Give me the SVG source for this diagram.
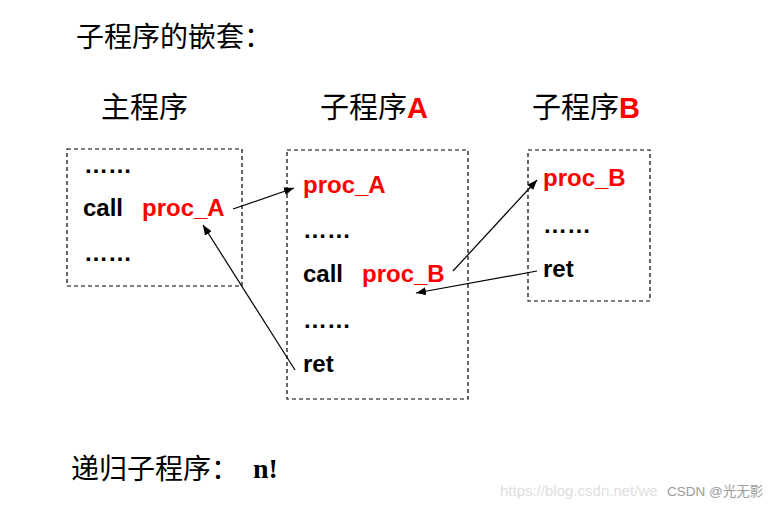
<svg xmlns="http://www.w3.org/2000/svg" width="780" height="507" viewBox="0 0 780 507">
<style>
.cjk{font-family:"Noto Sans CJK SC","Noto Sans",sans-serif;fill:#000}
.code{font-family:"Liberation Sans",Arial,sans-serif;font-weight:bold;font-size:24px;fill:#000}
.red{fill:#ff0000}
.box{fill:none;stroke:#000;stroke-width:1.2;stroke-dasharray:4,3}
.conn{stroke:#000;stroke-width:1.2;fill:none;marker-end:url(#arr)}
</style>
<defs>
<marker id="arr" markerUnits="userSpaceOnUse" markerWidth="10" markerHeight="8" refX="10" refY="4" orient="auto">
<path d="M0,0 L10,4 L0,8 z" fill="#000"/>
</marker>
</defs>
<rect width="780" height="507" fill="#fff"/>
<text class="cjk" x="76" y="47" font-size="28">子程序的嵌套：</text>
<text class="cjk" x="101" y="118" font-size="29">主程序</text>
<text class="cjk" x="320" y="118" font-size="29">子程序<tspan font-family="Liberation Sans,Arial,sans-serif" font-weight="bold" fill="#ff0000">A</tspan></text>
<text class="cjk" x="532" y="118" font-size="29">子程序<tspan font-family="Liberation Sans,Arial,sans-serif" font-weight="bold" fill="#ff0000">B</tspan></text>

<g id="main">
<rect class="box" x="67" y="149" width="175" height="137"/>
<text class="code" x="84" y="173">……</text>
<text class="code" x="83" y="216">call</text>
<text class="code red" x="142" y="216">proc_A</text>
<text class="code" x="84" y="261">……</text>
</g>
<g id="procA">
<rect class="box" x="287" y="150" width="181" height="249"/>
<text class="code red" x="303" y="193">proc_A</text>
<text class="code" x="303" y="238">……</text>
<text class="code" x="303" y="282">call</text>
<text class="code red" x="362" y="282">proc_B</text>
<text class="code" x="303" y="328">……</text>
<text class="code" x="303" y="372">ret</text>
</g>
<g id="procB">
<rect class="box" x="528" y="150" width="122" height="151"/>
<text class="code red" x="543" y="186">proc_B</text>
<text class="code" x="543" y="233">……</text>
<text class="code" x="543" y="277">ret</text>
</g>
<g id="connectors">
<line class="conn" x1="233" y1="209" x2="294" y2="188"/>
<line class="conn" x1="295" y1="370" x2="203" y2="225"/>
<line class="conn" x1="453" y1="271" x2="537" y2="180"/>
<line class="conn" x1="537" y1="271" x2="416" y2="293"/>
</g>
<text class="cjk" x="71" y="479" font-size="28">递归子程序：</text>
<text x="253" y="478" font-family="Liberation Serif,Times New Roman,serif" font-weight="bold" font-size="28" fill="#000">n!</text>
<text x="500" y="496" font-family="Liberation Sans,Arial,sans-serif" font-size="15" fill="#e0e0e0">https://blog.csdn.net/we</text>
<text x="667" y="496" font-family="Liberation Sans,'Noto Sans CJK SC',sans-serif" font-size="13.5" fill="#9a9a9a">CSDN @光无影</text>
</svg>
